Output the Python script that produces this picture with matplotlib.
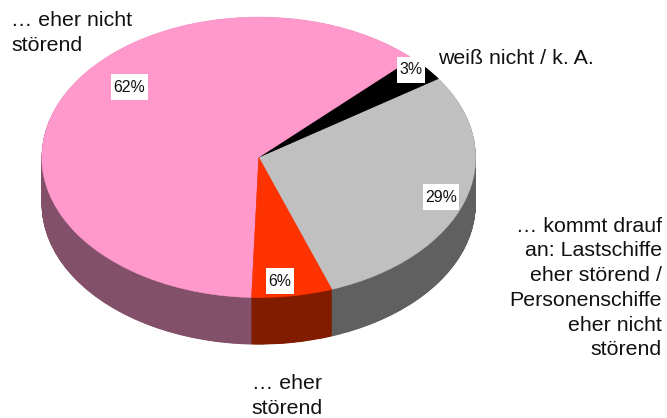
import numpy as np
import matplotlib
matplotlib.use("Agg")
import matplotlib.pyplot as plt
from matplotlib.patches import Rectangle

plt.rcParams['font.family'] = ['Liberation Sans', 'DejaVu Sans']

# Slices, in counter-clockwise order beginning with the grey one
categories = ["… kommt drauf\nan: Lastschiffe\neher störend /\nPersonenschiffe\neher nicht\nstörend",
              "weiß nicht / k. A.",
              "… eher nicht\nstörend",
              "… eher\nstörend"]
shares = [29, 3, 62, 6]
top_colors = ["#C0C0C0", "#000000", "#FF99CC", "#FF3300"]
side_colors = ["#606060", "#000000", "#825068", "#821C00"]

W, H = 667, 418
CX, CY, RX, RY, DEPTH = 258.7, 157.3, 217.0, 140.3, 47.0
START = -70.3

fig = plt.figure(figsize=(W / 100, H / 100), dpi=100, facecolor="white")
ax = fig.add_axes([0, 0, 1, 1])

# extruded side: the pie stacked from its lowest level upward
for off in np.arange(DEPTH / RY, 0, -0.4 / RY):
    ax.pie(shares, colors=side_colors, startangle=START, counterclock=True,
           center=(0, -off), radius=1, normalize=True,
           wedgeprops=dict(linewidth=0))
top, _ = ax.pie(shares, colors=top_colors, startangle=START, counterclock=True,
                center=(0, 0), radius=1, normalize=True,
                wedgeprops=dict(linewidth=0.3))
for w, c in zip(top, top_colors):
    w.set_edgecolor(c)

ax.set_aspect("auto")
ax.set_xlim(-CX / RX, (W - CX) / RX)
ax.set_ylim(-(H - CY) / RY, CY / RY)
ax.axis("off")

def px(x, y, s, **kw):
    fig.text(x / W, 1 - y / H, s, **kw)

pct_positions = [(441, 197), (411, 70), (129.5, 87), (280, 281)]
for (x, y), v in zip(pct_positions, shares):
    bw = 37 if v >= 10 else 28
    fig.add_artist(Rectangle(((x - bw / 2) / W, 1 - (y + 13) / H), bw / W, 26 / H,
                             transform=fig.transFigure, facecolor="white",
                             edgecolor="none", zorder=3))
    px(x, y, f"{v}%", fontsize=11.4, color="#111111", ha="center", va="center", zorder=4)

OUT = 15.4
LS = 1.38
px(662, 288, categories[0], fontsize=OUT, ha="right", va="center", linespacing=LS, color="#111111")
px(438, 58, categories[1], fontsize=OUT, ha="left", va="center", color="#111111")
px(11, 33, categories[2], fontsize=OUT, ha="left", va="center", linespacing=LS, color="#111111")
px(287, 396, categories[3], fontsize=OUT, ha="center", va="center", linespacing=LS, color="#111111")

fig.savefig("out.png", dpi=100, facecolor="white")
